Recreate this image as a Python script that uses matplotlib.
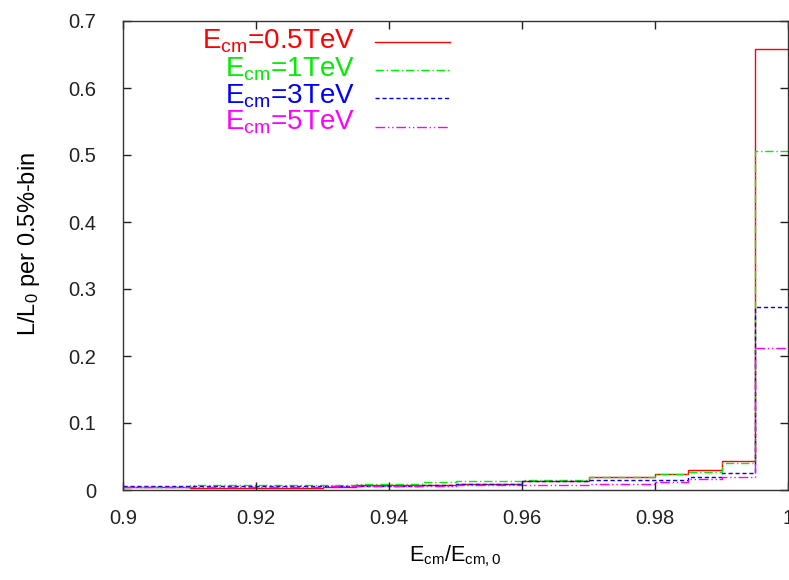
import numpy as np
import matplotlib
matplotlib.use("Agg")
import matplotlib.pyplot as plt

plt.rcParams['font.family'] = ['Liberation Sans', 'DejaVu Sans']
plt.rcParams['mathtext.fontset'] = 'custom'
plt.rcParams['mathtext.rm'] = 'Liberation Sans'
plt.rcParams['mathtext.it'] = 'Liberation Sans'
plt.rcParams['mathtext.default'] = 'regular'

bin_edges = np.round(np.arange(0.900, 1.0001, 0.005), 3)

lumi_05 = [0.005, 0.005, 0.0035, 0.0035, 0.0035, 0.0035, 0.005, 0.0075, 0.0075, 0.0075,
           0.0095, 0.0095, 0.013, 0.013, 0.019, 0.019, 0.0245, 0.030, 0.043, 0.658]
lumi_1 = [0.005, 0.005, 0.0075, 0.0075, 0.0075, 0.0075, 0.0075, 0.0095, 0.0095, 0.0115,
          0.013, 0.013, 0.0145, 0.0145, 0.020, 0.020, 0.0245, 0.027, 0.040, 0.506]
lumi_3 = [0.006, 0.006, 0.006, 0.006, 0.006, 0.006, 0.006, 0.0065, 0.0065, 0.007,
          0.0095, 0.0095, 0.0135, 0.0135, 0.0145, 0.0145, 0.0155, 0.020, 0.026, 0.273]
lumi_5 = [0.005, 0.005, 0.005, 0.005, 0.005, 0.005, 0.0055, 0.006, 0.006, 0.0065,
          0.007, 0.007, 0.007, 0.007, 0.0095, 0.0095, 0.012, 0.016, 0.019, 0.212]

labels = ['E$_{cm}$=0.5TeV', 'E$_{cm}$=1TeV', 'E$_{cm}$=3TeV', 'E$_{cm}$=5TeV']
series = [lumi_05, lumi_1, lumi_3, lumi_5]
colors = ['#ff0000', '#00ee00', '#0000ff', '#ff00ff']
styles = ['-', (0, (6, 2, 1, 2)), (0, (3, 2)), (0, (7, 2, 1, 2, 1, 2))]

fig = plt.figure(figsize=(7.89, 5.80), dpi=100)
ax = fig.add_axes([123/789, 90/580, 665/789, 469/580])

for vals, col, ls in zip(series, colors, styles):
    ax.stairs(vals, bin_edges, color=col, linestyle=ls, linewidth=1.0, baseline=None)

ax.set_xlim(0.9, 1.0)
ax.set_ylim(0, 0.7)
ax.set_xticks([0.9, 0.92, 0.94, 0.96, 0.98, 1.0])
ax.set_xticklabels(['0.9', '0.92', '0.94', '0.96', '0.98', '1'])
ax.set_yticks([0, 0.1, 0.2, 0.3, 0.4, 0.5, 0.6, 0.7])
ax.set_yticklabels(['0', '0.1', '0.2', '0.3', '0.4', '0.5', '0.6', '0.7'])
ax.tick_params(direction='in', length=6, width=1, top=True, right=True,
               labelsize=14.5, colors='#222222')
ax.tick_params(axis='x', pad=14)
ax.tick_params(axis='y', pad=19)
for s in ax.spines.values():
    s.set_color('#333333')
    s.set_linewidth(1.0)

ax.set_xlabel('E$_{cm}$/E$_{cm,0}$', fontsize=15.5, labelpad=11)
ax.set_ylabel('L/L$_0$ per 0.5%-bin', fontsize=17)
ax.yaxis.set_label_coords(-0.122, 0.525)

# gnuplot-style key: text right-aligned, sample line to the right
text_y = [0.942, 0.882, 0.824, 0.768]
line_y = [0.956, 0.896, 0.836, 0.775]
for lab, col, ls, ty, ly in zip(labels, colors, styles, text_y, line_y):
    ax.text(0.349, ty, lab, color=col, fontsize=20, ha='right', va='baseline',
            transform=ax.transAxes)
    ax.plot([0.379, 0.492], [ly, ly], color=col, linestyle=ls, linewidth=1.0,
            transform=ax.transAxes, clip_on=False)

fig.savefig('out.png', dpi=100)
